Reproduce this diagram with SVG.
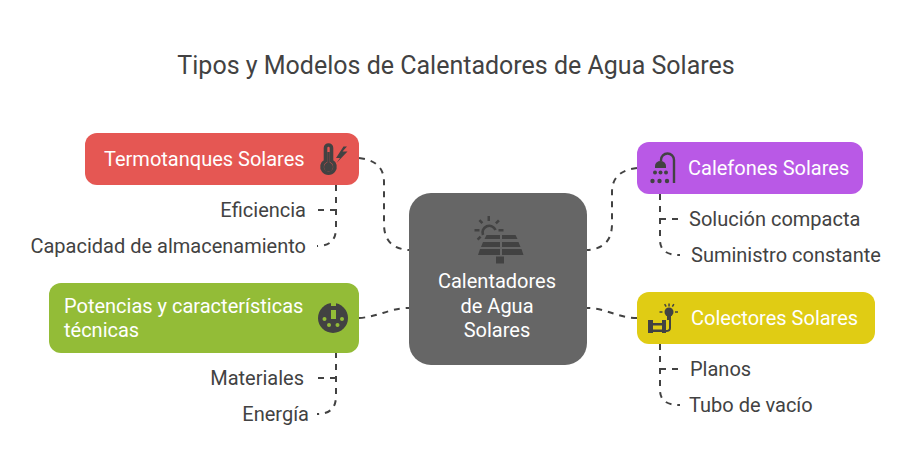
<svg xmlns="http://www.w3.org/2000/svg" width="912" height="474" viewBox="0 0 912 474">
<style>
text{font-family:Roboto,"Liberation Sans",sans-serif}
.t{font-size:25px;fill:#424242}
.w{font-size:20px;fill:#fff}
.l{font-size:20px;fill:#424242}
.c{fill:none;stroke:#424242;stroke-width:2;stroke-dasharray:6 6}
.i{fill:#424242}
.s{fill:none;stroke:#424242}
</style>
<rect width="912" height="474" fill="#fff"/>
<text class="t" x="456" y="73.500" text-anchor="middle">Tipos y Modelos de Calentadores de Agua Solares</text>
<g id="connectors">
<path class="c" d="M359 158C376 160 384 168 384 182V224C384 240 392 249 409 250"/>
<path class="c" d="M637 168C620 170 612 178 612 192V224C612 240 604 249 587 250"/>
<path class="c" d="M359 318C378 317 390 308 409 308"/>
<path class="c" d="M637 318C618 318 606 308 587 308"/>
<path class="c" d="M336 185V228C336 240 330 246 317 246"/>
<path class="c" d="M336 210H316"/>
<path class="c" d="M660 194V240C660 250 666 255 680 255"/>
<path class="c" d="M660 219H680"/>
<path class="c" d="M660 344V390C660 400 666 405 680 405"/>
<path class="c" d="M660 369H680"/>
<path class="c" d="M336 352V396C336 408 330 414 317 414"/>
<path class="c" d="M336 378H316"/>
</g>
<g id="center">
<rect x="409" y="193" width="178" height="172" rx="22" fill="#666"/>
<path class="s" stroke-width="2.600" d="M483 235a6.500 6.500 0 0 1 12.500-5"/>
<g class="i">
<path d="M487.500 216h2.500v5h-2.500zM474.500 229h5v2.500h-5zM498.500 229h5v2.500h-5z"/>
<path d="M478.500 221l1.800-1.800 3 3-1.800 1.800zM498 219.500l1.800 1.800-3 3-1.800-1.800zM478.500 240.500l-1.800-1.800 3-3 1.800 1.800z"/>
<path d="M486.500 235h13.500v4h-15.500zM502 235h13.500l2 4h-15.500zM483 242h17v5h-19zM502 242h16.500l2 5h-18.500zM480 249h20v6h-22zM502 249h19.500l2 6h-21.500zM496 256.500h8v7h-8z"/>
</g>
<text class="w" text-anchor="middle"><tspan x="497" y="288">Calentadores</tspan><tspan x="497" y="313">de Agua</tspan><tspan x="497" y="337">Solares</tspan></text>
</g>
<g id="termotanques">
<rect x="85" y="133" width="274" height="52" rx="12" fill="#e55753"/>
<text class="w" x="104" y="166">Termotanques Solares</text>
<path class="s" stroke-width="3.600" d="M325.500 161V148a3 3 0 0 1 6 0V161a6.500 6.500 0 1 1-6 0z"/>
<circle class="i" cx="328.500" cy="167" r="4.500"/><path class="s" stroke-width="2.500" d="M328.500 152v12"/>
<path class="i" d="M343.500 146.500l-7.500 11.500h4l-3.500 5 11-11.500h-5l4.500-5z"/>
</g>
<g id="potencias">
<rect x="49" y="283" width="310" height="70" rx="12" fill="#93bc37"/>
<text class="w" x="64" y="313">Potencias y características</text>
<text class="w" x="64" y="337">técnicas</text>
<circle class="i" cx="333" cy="318" r="15"/>
<path fill="#93bc37" d="M331 310h5v9h-5zM331 303h5v3h-5z"/>
<circle cx="324.500" cy="319" r="2" fill="#93bc37"/><circle cx="342" cy="319" r="2" fill="#93bc37"/><circle cx="329" cy="325" r="2" fill="#93bc37"/><circle cx="337.500" cy="325" r="2" fill="#93bc37"/>
</g>
<g id="calefones">
<rect x="637" y="142" width="226" height="52" rx="12" fill="#b959e6"/>
<text class="w" x="688" y="175">Calefones Solares</text>
<path class="s" stroke-width="2.400" d="M661 161v-1a6.500 6.500 0 0 1 13 0v23"/>
<path class="i" d="M655 168v-2a5.500 5 0 0 1 11 0v2z"/>
<g class="i"><circle cx="655" cy="172.500" r="2"/><circle cx="660.500" cy="172.500" r="2"/><circle cx="666" cy="172.500" r="2"/><circle cx="652.500" cy="181" r="2.200"/><circle cx="659.500" cy="181" r="2.200"/><circle cx="667" cy="181" r="2.200"/></g>
</g>
<g id="colectores">
<rect x="637" y="292" width="238" height="52" rx="12" fill="#e0cc14"/>
<text class="w" x="691" y="325">Colectores Solares</text>
<g class="i">
<path d="M648 320h5v13h-5zM662 320h4v13h-4zM653 323h9v2.500h-9zM653 329.500h9v2.500h-9z"/>
<circle cx="669" cy="312" r="4.500"/><path d="M667 316h4v4h-4zM659.500 311.300h3v1.500h-3zM675 311.300h3v1.500h-3zM668.300 303.500h1.500v3h-1.500zM664 304.500l1.300-.7 1.500 2.500-1.300.7zM674.500 304.500l-1.300-.7-1.500 2.500 1.300.7z"/>
</g>
<path class="s" stroke-width="2" d="M670 320v8q0 3-4 3"/>
</g>
<g id="labels">
<text class="l" x="306" y="217" text-anchor="end">Eficiencia</text>
<text class="l" x="306" y="253" text-anchor="end">Capacidad de almacenamiento</text>
<text class="l" x="304" y="385" text-anchor="end">Materiales</text>
<text class="l" x="309" y="421" text-anchor="end">Energía</text>
<text class="l" x="689" y="226">Solución compacta</text>
<text class="l" x="691" y="262">Suministro constante</text>
<text class="l" x="690" y="376">Planos</text>
<text class="l" x="689" y="412">Tubo de vacío</text>
</g>
</svg>
